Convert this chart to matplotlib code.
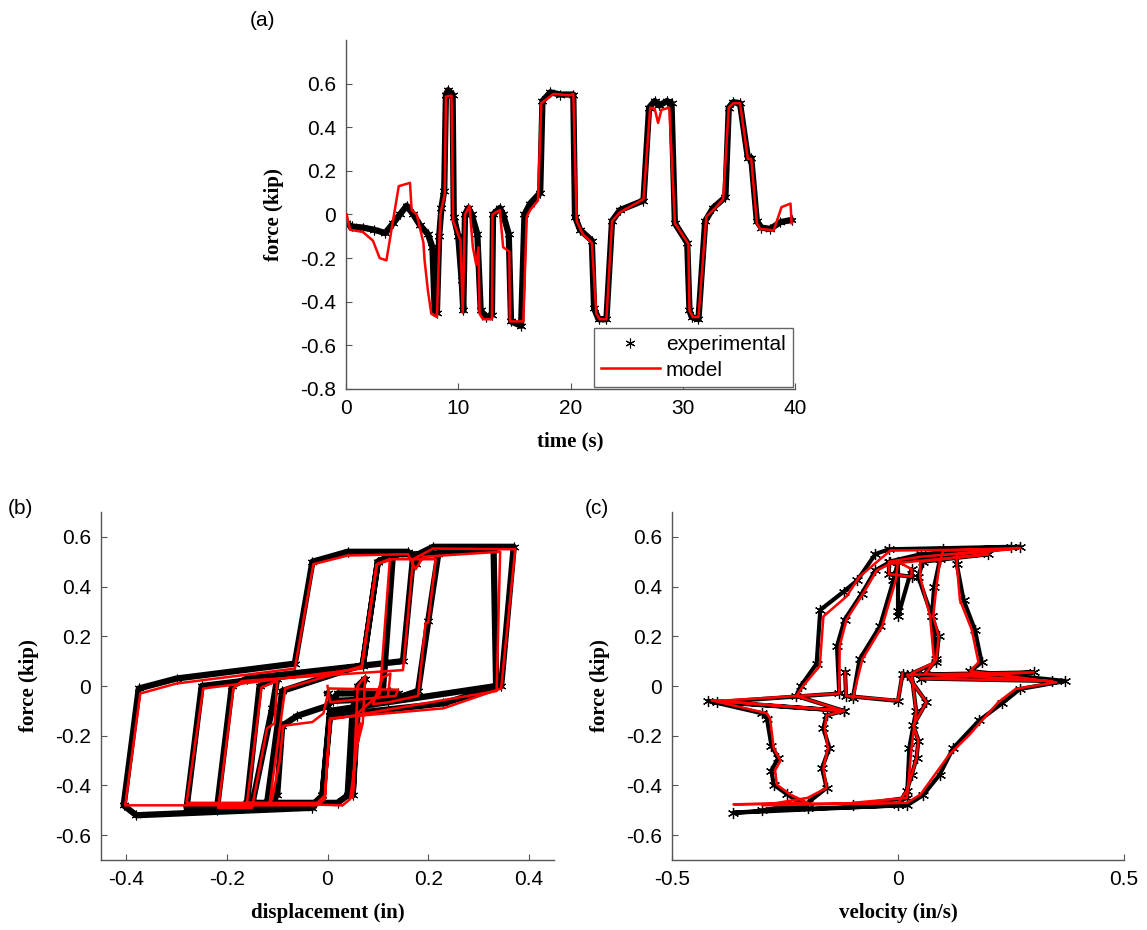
import numpy as np
import matplotlib
matplotlib.use("Agg")
import matplotlib.pyplot as plt

plt.rcParams['font.family'] = ['Liberation Sans', 'DejaVu Sans']
plt.rcParams['axes.unicode_minus'] = False

# ---------------- panel (a): force vs time ----------------
t_exp = [0.0, 0.5, 1.5, 2.5, 3.5, 4.2, 4.8, 5.4, 6.0, 6.6,
         7.3, 7.7, 7.9, 8.1, 8.3, 8.5, 8.75, 8.9, 9.1, 9.5,
         9.6, 10.0, 10.3, 10.45, 10.6, 10.9, 11.2, 11.7, 12.0, 12.5,
         13.0, 13.1, 13.7, 14.0, 14.5, 14.7, 15.6, 15.9, 16.4, 17.3,
         17.5, 18.2, 19.1, 20.25, 20.4, 20.85, 21.9, 22.1, 22.5, 23.2,
         23.7, 24.4, 26.5, 27.0, 27.5, 27.9, 28.6, 29.0, 29.3, 30.4,
         30.6, 30.8, 31.4, 32.0, 32.7, 33.8, 34.1, 34.5, 35.1, 35.8,
         36.1, 36.6, 37.0, 37.8, 38.7, 39.7]
f_exp = [-0.04, -0.055, -0.06, -0.07, -0.085, -0.04, 0.0, 0.04, 0.0, -0.05,
         -0.09, -0.15, -0.44, -0.45, -0.10, 0.03, 0.11, 0.55, 0.57, 0.55,
         -0.01, -0.10, -0.30, -0.44, 0.0, 0.03, 0.0, -0.09, -0.44, -0.47,
         -0.46, 0.0, 0.03, 0.0, -0.09, -0.49, -0.51, 0.0, 0.05, 0.10,
         0.52, 0.56, 0.55, 0.55, -0.01, -0.07, -0.12, -0.43, -0.48, -0.48,
         -0.03, 0.02, 0.064, 0.49, 0.52, 0.50, 0.52, 0.51, -0.04, -0.13,
         -0.44, -0.47, -0.48, -0.03, 0.03, 0.08, 0.49, 0.515, 0.51, 0.26,
         0.26, -0.03, -0.06, -0.066, -0.035, -0.025]

t_mod = [0.06, 0.36, 1.5, 2.4, 3.0, 3.6, 4.7, 5.7, 5.85, 6.3,
         6.9, 7.0, 7.3, 7.6, 8.1, 8.4, 8.8, 8.9, 9.4, 9.55,
         10.2, 10.4, 10.6, 11.0, 11.3, 11.6, 11.8, 11.9, 12.2, 13.0,
         13.05, 13.7, 14.0, 14.55, 14.6, 15.8, 16.1, 16.4, 17.1, 17.4,
         18.5, 19.9, 20.25, 20.55, 21.1, 21.9, 22.3, 22.6, 23.2, 23.7,
         24.4, 26.5, 27.1, 27.5, 27.8, 28.1, 28.8, 29.3, 30.5, 30.6,
         30.9, 31.4, 32.1, 32.9, 33.6, 34.1, 34.5, 35.1, 35.8, 36.1,
         36.6, 36.9, 38.1, 38.8, 39.6, 39.7]
f_mod = [0.0, -0.07, -0.08, -0.12, -0.20, -0.21, 0.13, 0.145, 0.02, 0.0,
         -0.13, -0.21, -0.35, -0.455, -0.47, 0.0, 0.095, 0.54, 0.545, -0.03,
         -0.12, -0.45, 0.0, 0.04, -0.15, -0.23, -0.15, -0.455, -0.48, -0.48,
         0.0, 0.02, -0.15, -0.17, -0.49, -0.49, -0.01, 0.02, 0.064, 0.51,
         0.553, 0.546, 0.553, -0.03, -0.09, -0.13, -0.455, -0.48, -0.48, -0.03,
         0.01, 0.07, 0.49, 0.485, 0.42, 0.48, 0.49, -0.04, -0.135, -0.44,
         -0.47, -0.47, -0.01, 0.03, 0.07, 0.49, 0.51, 0.51, 0.255, 0.255,
         -0.04, -0.066, -0.073, 0.034, 0.05, -0.04]

# ---------------- panel (b): force vs displacement ----------------
d_exp_b = [0.0, 0.01, 0.13, 0.14, 0.02, 0.0, -0.06, -0.09, -0.10, -0.12,
           -0.09, 0.07, 0.10, 0.13, 0.11,
           0.06, 0.05, 0.06, 0.075,
           0.05, 0.04, 0.02, -0.16, -0.135, -0.10,
           -0.11, -0.15, -0.22, -0.19, -0.16, 0.15,
           0.17, 0.21, 0.37, 0.345,
           0.23, 0.005, -0.01, -0.03, -0.38, -0.405,
           -0.375, -0.30, -0.065, -0.03, 0.04, 0.16, 0.175, 0.19, 0.33,
           0.335, 0.005, -0.01, -0.03, -0.28,
           -0.25, 0.07, 0.10, 0.14, 0.22, 0.20, 0.18, 0.12, 0.09, 0.11, 0.125]
f_exp_b = [-0.03, -0.06, -0.05, -0.03, -0.03, -0.08, -0.12, -0.16, -0.44, -0.47,
           -0.02, 0.085, 0.50, 0.53, -0.02,
           -0.10, -0.44, 0.0, 0.03,
           -0.09, -0.44, -0.47, -0.47, 0.0, 0.03,
           -0.09, -0.48, -0.50, 0.0, 0.03, 0.10,
           0.52, 0.56, 0.56, 0.0,
           -0.07, -0.12, -0.44, -0.49, -0.52, -0.48,
           -0.01, 0.03, 0.09, 0.50, 0.54, 0.54, 0.49, 0.53, 0.55,
           0.0, -0.10, -0.44, -0.48, -0.49,
           0.0, 0.08, 0.50, 0.53, 0.53, 0.26, -0.02, -0.06, -0.066, -0.03, -0.025]

d_mod_b = [0.0, 0.005, 0.135, 0.14, 0.003, -0.008, -0.03, -0.088, -0.095, -0.11, -0.115,
           -0.084, 0.068, 0.098, 0.124, 0.104,
           0.06, 0.05, 0.06, 0.075,
           0.07, 0.06, 0.065, 0.045, 0.03, -0.16, -0.131, -0.10,
           -0.105, -0.12, -0.15, -0.217, -0.187, -0.17, 0.15,
           0.17, 0.21, 0.373, 0.345,
           0.23, 0.005, -0.005, -0.02, -0.402,
           -0.372, -0.30, -0.065, -0.028, 0.04, 0.16, 0.175, 0.19, 0.343,
           0.336, 0.005, -0.005, -0.02, -0.28,
           -0.247, 0.068, 0.098, 0.13, 0.215, 0.20, 0.195, 0.18, 0.12, 0.09, 0.11, 0.125, 0.12]
f_mod_b = [0.0, -0.065, -0.04, -0.015, -0.01, -0.11, -0.145, -0.16, -0.30, -0.455, -0.47,
           -0.01, 0.08, 0.49, 0.512, -0.03,
           -0.11, -0.45, 0.0, 0.04,
           -0.15, -0.23, -0.15, -0.455, -0.48, -0.47, -0.005, 0.02,
           -0.15, -0.17, -0.49, -0.49, -0.01, 0.02, 0.064,
           0.51, 0.553, 0.55, -0.01,
           -0.09, -0.13, -0.455, -0.48, -0.48,
           -0.03, 0.01, 0.07, 0.49, 0.525, 0.53, 0.47, 0.52, 0.54,
           -0.02, -0.135, -0.44, -0.47, -0.47,
           -0.01, 0.07, 0.49, 0.51, 0.51, 0.255, 0.255, -0.04, -0.066, -0.073, 0.034, 0.05, -0.04]

# ---------------- panel (c): force vs velocity ----------------
v_exp_c = [0.01, 0.0, -0.115, -0.117, np.nan,
           -0.10, -0.085, -0.04, -0.01, 0.0, 0.0, 0.0, 0.03, 0.03, -0.02, -0.02, 0.05, 0.27,
           0.10, 0.093, 0.08, 0.075, 0.09, 0.085, 0.06,
           0.34, 0.05, 0.30, 0.02,
           0.063, 0.034, 0.045, 0.041, 0.03, 0.019, 0.0,
           -0.364, -0.20, -0.245, -0.275, -0.28, -0.265, -0.28, -0.29,
           -0.30, -0.42, -0.12, -0.225,
           -0.215, -0.18, -0.172, -0.12, -0.09, -0.05, -0.02,
           0.25, 0.13, 0.13, 0.145, 0.17, 0.185, 0.16,
           0.37, 0.27, 0.23, 0.18, 0.122, 0.092, 0.055, 0.02,
           -0.30, -0.20, -0.158, -0.168, -0.152, -0.165, -0.158,
           -0.12, -0.40, -0.13, -0.135, -0.118, -0.08, -0.05, -0.017,
           0.20, 0.055, 0.045, 0.075, 0.085, 0.03,
           0.04, 0.025, 0.02, -0.10]
f_exp_c = [0.05, -0.06, -0.04, 0.055, np.nan,
           -0.05, 0.107, 0.24, 0.425, 0.50, 0.30, 0.28, 0.47, 0.44, 0.45, 0.50, 0.53, 0.56,
           0.55, 0.51, 0.40, 0.28, 0.20, 0.107, 0.05,
           0.02, 0.03, 0.055, 0.045,
           -0.065, -0.158, -0.22, -0.29, -0.36, -0.423, -0.48,
           -0.51, -0.49, -0.436, -0.397, -0.34, -0.29, -0.24, -0.131,
           -0.11, -0.06, -0.10, -0.04,
           0.0, 0.09, 0.306, 0.38, 0.425, 0.531, 0.55,
           0.56, 0.53, 0.49, 0.346, 0.227, 0.095, 0.06,
           0.02, -0.012, -0.07, -0.138, -0.25, -0.357, -0.44, -0.48,
           -0.50, -0.47, -0.41, -0.33, -0.25, -0.17, -0.118,
           -0.10, -0.065, -0.03, 0.16, 0.267, 0.372, 0.465, 0.50,
           0.53, 0.50, 0.439, 0.28, 0.095, 0.05,
           -0.10, -0.25, -0.45, -0.48]

v_mod_c = [0.01, 0.0, -0.115, -0.117, np.nan,
           -0.10, -0.079, -0.035, -0.005, 0.0, 0.03, 0.03, -0.02, -0.02, 0.05, 0.27,
           0.10, 0.093, 0.085, 0.078, 0.09, 0.085, 0.06,
           0.34, 0.05, 0.30, 0.02,
           0.063, 0.034, 0.045, 0.041, 0.03, 0.019, 0.0,
           -0.364, -0.20, -0.239, -0.268, -0.272, -0.26, -0.275, -0.283,
           -0.29, -0.412, -0.12, -0.225,
           -0.21, -0.173, -0.165, -0.114, -0.085, -0.017,
           0.25, 0.13, 0.13, 0.137, 0.163, 0.178, 0.16,
           0.35, 0.26, 0.222, 0.157, 0.113, 0.05, 0.02,
           -0.30, -0.20, -0.158, -0.165, -0.155, -0.162, -0.158,
           -0.12, -0.40, -0.13, -0.129, -0.114, -0.077, -0.047, -0.017,
           0.20, 0.049, 0.049, 0.071, 0.08, 0.03,
           0.04, 0.03, 0.02, -0.10]
f_mod_c = [0.05, -0.058, -0.04, 0.054, np.nan,
           -0.05, 0.107, 0.24, 0.425, 0.50, 0.47, 0.44, 0.45, 0.50, 0.52, 0.555,
           0.545, 0.505, 0.40, 0.28, 0.20, 0.107, 0.05,
           0.02, 0.03, 0.055, 0.045,
           -0.065, -0.158, -0.22, -0.29, -0.36, -0.423, -0.47,
           -0.476, -0.47, -0.436, -0.397, -0.34, -0.30, -0.25, -0.131,
           -0.11, -0.058, -0.10, -0.04,
           0.0, 0.081, 0.28, 0.36, 0.44, 0.545,
           0.55, 0.53, 0.49, 0.346, 0.227, 0.095, 0.06,
           0.015, -0.012, -0.065, -0.198, -0.277, -0.436, -0.47,
           -0.48, -0.45, -0.41, -0.33, -0.25, -0.17, -0.118,
           -0.10, -0.06, -0.03, 0.16, 0.267, 0.372, 0.465, 0.492,
           0.53, 0.50, 0.439, 0.28, 0.095, 0.05,
           -0.10, -0.25, -0.45, -0.47]

yticks_a = [-0.8, -0.6, -0.4, -0.2, 0.0, 0.2, 0.4, 0.6]
yticklabels_a = ['-0.8', '-0.6', '-0.4', '-0.2', '0', '0.2', '0.4', '0.6']
xticks_a = [0, 10, 20, 30, 40]
yticks_bc = [-0.6, -0.4, -0.2, 0.0, 0.2, 0.4, 0.6]
yticklabels_bc = ['-0.6', '-0.4', '-0.2', '0', '0.2', '0.4', '0.6']
xticks_b = [-0.4, -0.2, 0.0, 0.2, 0.4]
xticklabels_b = ['-0.4', '-0.2', '0', '0.2', '0.4']
xticks_c = [-0.5, 0.0, 0.5]
xticklabels_c = ['-0.5', '0', '0.5']

W, H = 1147, 930
fig = plt.figure(figsize=(W / 100, H / 100), dpi=100)

def add_ax(x0, y0, x1, y1):
    return fig.add_axes([x0 / W, 1 - y1 / H, (x1 - x0) / W, (y1 - y0) / H])

ax_a = add_ax(346, 40, 795, 389)
ax_b = add_ax(101, 512, 554, 860)
ax_c = add_ax(672, 512, 1124, 860)

TICK_FS = 15
LAB_FS = 15
label_font = dict(family='Liberation Serif', weight='bold', size=LAB_FS)
ast = (6, 2, 0)

def style(ax):
    for s in ['top', 'right']:
        ax.spines[s].set_visible(False)
    for s in ['left', 'bottom']:
        ax.spines[s].set_color('#555555')
        ax.spines[s].set_linewidth(1.0)
    ax.tick_params(direction='in', length=4, width=0.8, color='#555555',
                   labelsize=TICK_FS, pad=7)

# (a)
style(ax_a)
ax_a.plot(t_exp, f_exp, color='black', lw=4.5, solid_capstyle='round', zorder=2)
ax_a.plot(t_exp, f_exp, ls='none', marker=ast, ms=7, mew=0.8, color='black',
          label='experimental', zorder=2)
ax_a.plot(t_mod, f_mod, color='red', lw=1.8, label='model', zorder=3)
ax_a.set_xlim(0, 40)
ax_a.set_ylim(-0.8, 0.8)
ax_a.set_xticks(xticks_a)
ax_a.set_yticks(yticks_a)
ax_a.set_yticklabels(yticklabels_a)
ax_a.set_xlabel('time (s)', fontdict=label_font, labelpad=10)
ax_a.set_ylabel('force (kip)', fontdict=label_font, labelpad=12)
leg = ax_a.legend(loc='lower right', fontsize=15, frameon=True, fancybox=False,
                  borderaxespad=0.1, handlelength=2.8, borderpad=0.35,
                  labelspacing=0.3, handletextpad=0.3, framealpha=1.0)
leg.get_frame().set_edgecolor('#666666')
leg.get_frame().set_linewidth(1.0)

# (b)
style(ax_b)
ax_b.plot(d_exp_b, f_exp_b, color='black', lw=4.5, solid_joinstyle='round', zorder=2)
ax_b.plot(d_exp_b, f_exp_b, ls='none', marker=ast, ms=7, mew=0.8, color='black', zorder=2)
ax_b.plot(d_mod_b, f_mod_b, color='red', lw=1.8, zorder=3)
ax_b.set_xlim(-0.45, 0.45)
ax_b.set_ylim(-0.7, 0.7)
ax_b.set_xticks(xticks_b)
ax_b.set_xticklabels(xticklabels_b)
ax_b.set_yticks(yticks_bc)
ax_b.set_yticklabels(yticklabels_bc)
ax_b.set_xlabel('displacement (in)', fontdict=label_font, labelpad=10)
ax_b.set_ylabel('force (kip)', fontdict=label_font, labelpad=12)

# (c)
style(ax_c)
ax_c.plot(v_exp_c, f_exp_c, color='black', lw=3.0, solid_joinstyle='round', zorder=2)
ax_c.plot(v_exp_c, f_exp_c, ls='none', marker=ast, ms=8, mew=0.9, color='black', zorder=2)
ax_c.plot(v_mod_c, f_mod_c, color='red', lw=1.8, zorder=3)
ax_c.set_xlim(-0.5, 0.5)
ax_c.set_ylim(-0.7, 0.7)
ax_c.set_xticks(xticks_c)
ax_c.set_xticklabels(xticklabels_c)
ax_c.set_yticks(yticks_bc)
ax_c.set_yticklabels(yticklabels_bc)
ax_c.set_xlabel('velocity (in/s)', fontdict=label_font, labelpad=10)
ax_c.set_ylabel('force (kip)', fontdict=label_font, labelpad=12)

fig.text(250 / W, 1 - 20 / H, '(a)', fontsize=15, va='center', ha='left')
fig.text(8 / W, 1 - 508 / H, '(b)', fontsize=15, va='center', ha='left')
fig.text(585 / W, 1 - 508 / H, '(c)', fontsize=15, va='center', ha='left')

fig.savefig('out.png', dpi=100)
